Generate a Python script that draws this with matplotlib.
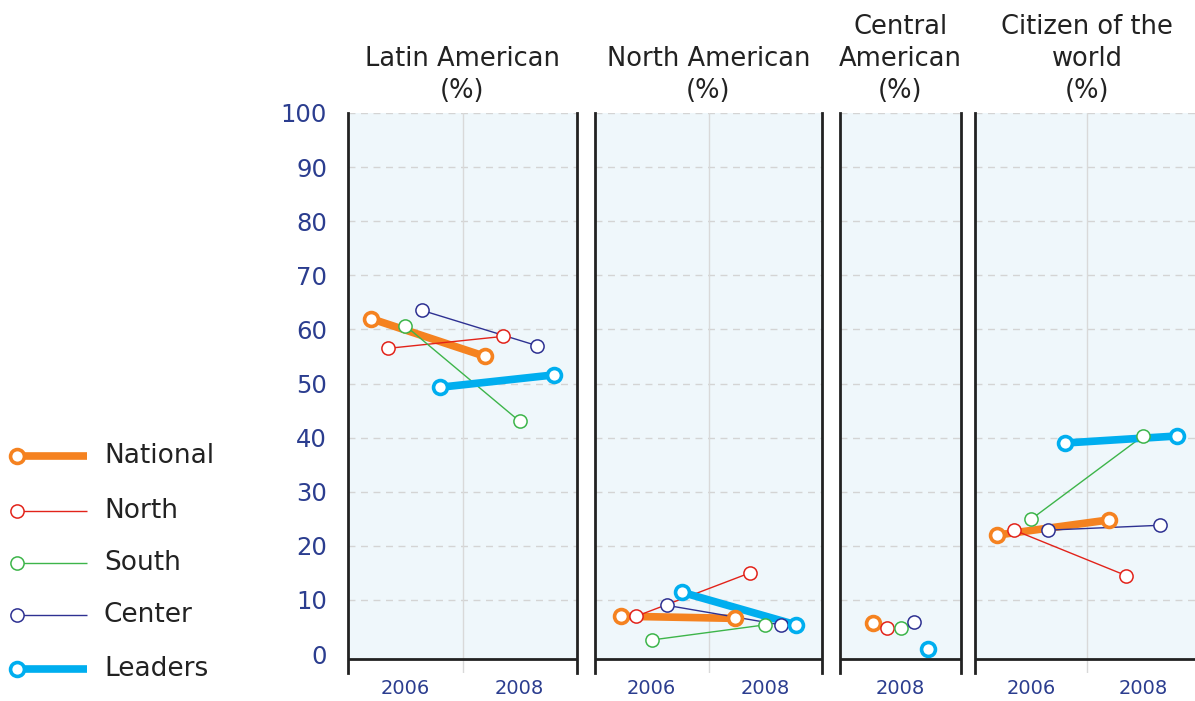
import matplotlib.pyplot as plt
import numpy as np

series = ['National', 'North', 'South', 'Center', 'Leaders']
colors = ['#f58220', '#e2231a', '#3db54a', '#2e3192', '#00aeef']
panels = ['Latin American\n(%)', 'North American\n(%)',
          'Central\nAmerican\n(%)', 'Citizen of the\nworld\n(%)']
years = [['2006', '2008'], ['2006', '2008'], ['2008'], ['2006', '2008']]

# values per series (National, North, South, Center, Leaders), one per year
latin = [[62, 55], [56.5, 58.7], [60.7, 43], [63.5, 57], [49.3, 51.6]]
north_am = [[7, 6.6], [7, 15], [2.6, 5.4], [9, 5.4], [11.4, 5.4]]
central = [[5.8], [4.9], [4.9], [6], [1]]
citizen = [[22, 24.8], [22.9, 14.5], [24.9, 40.3], [22.9, 23.8], [39, 40.3]]
data = [latin, north_am, central, citizen]

W, H = 1195, 701
top, bottom = 113, 673
boxes = [(348, 577), (595, 822), (840, 961), (975, 1199)]
steps = [0.15, 0.135, 0.115, 0.15]
tick_blue = '#2b3d8f'
base = -0.9  # where the black axis line sits

fig = plt.figure(figsize=(W / 100, H / 100), dpi=100)

for k, (x0, x1) in enumerate(boxes):
    ax = fig.add_axes([x0 / W, (H - bottom) / H, (x1 - x0) / W, (bottom - top) / H])
    n = len(years[k])
    ax.set_xlim(0, n)
    ax.set_ylim(-3.5, 100)
    ax.axhspan(base, 100, color='#eff7fb', lw=0, zorder=0)
    for v in range(10, 101, 10):
        ax.axhline(v, color='#d4d4d4', lw=1, ls=(0, (5, 4)), zorder=1)
    for i in range(1, n):
        ax.axvline(i, color='#d9d9d9', lw=1, zorder=1)
    ax.axhline(base, color='#222222', lw=2, zorder=4)
    for side in ['top', 'bottom']:
        ax.spines[side].set_visible(False)
    for side in ['left', 'right']:
        ax.spines[side].set_color('#222222')
        ax.spines[side].set_linewidth(2)
        ax.spines[side].set_zorder(5)

    for s in range(len(series)):
        vals = data[k][s]
        xs = np.arange(n) + 0.5 + (s - 2) * steps[k]
        thick = series[s] in ('National', 'Leaders')
        ax.plot(xs, vals, color=colors[s], lw=5.5 if thick else 1,
                solid_capstyle='butt', zorder=2)
        ax.plot(xs, vals, ls='none', marker='o', ms=10 if thick else 9.5,
                mfc='white', mec=colors[s], mew=2.6 if thick else 1.1, zorder=3)

    ax.set_xticks(np.arange(n) + 0.5, years[k])
    ax.tick_params(axis='x', length=0, labelsize=14, labelcolor=tick_blue, pad=4)
    if k == 0:
        ax.set_yticks(range(0, 101, 10))
        ax.tick_params(axis='y', length=0, labelsize=17.5, labelcolor=tick_blue, pad=15)
    else:
        ax.set_yticks([])
    ax.set_title(panels[k], fontsize=18.5, color='#222222', pad=11, linespacing=1.3)

# legend drawn in pixel coordinates
leg = fig.add_axes([0, 0, 1, 1])
leg.set_xlim(0, W)
leg.set_ylim(H, 0)
leg.axis('off')
leg_y = [456, 511, 563, 615, 669]
for s in range(len(series)):
    thick = series[s] in ('National', 'Leaders')
    leg.plot([17, 87], [leg_y[s]] * 2, color=colors[s], lw=5.5 if thick else 1,
             solid_capstyle='butt', marker='o', markevery=[0],
             ms=10 if thick else 9.5, mfc='white', mec=colors[s],
             mew=2.6 if thick else 1.1)
    leg.text(104, leg_y[s], series[s], fontsize=19, color='#222222', va='center')

fig.savefig('out.png', dpi=100)
